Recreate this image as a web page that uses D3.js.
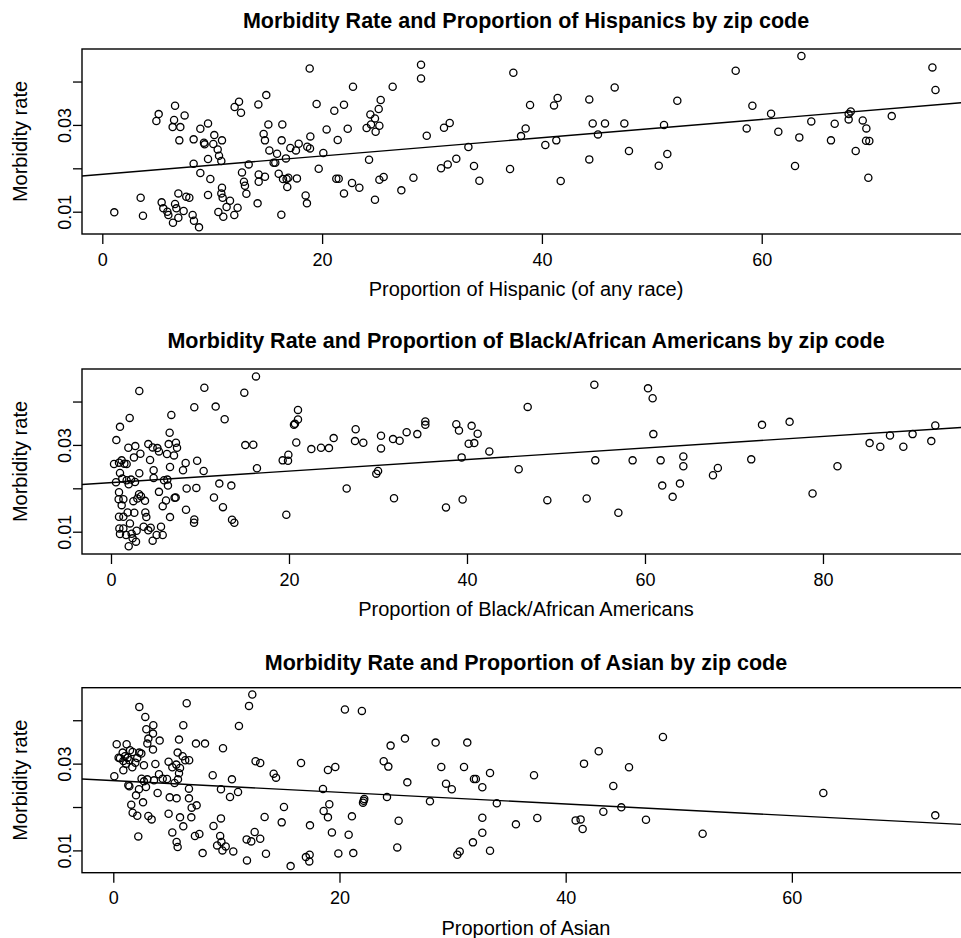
<!DOCTYPE html>
<html>
<head>
<meta charset="utf-8">
<script src="https://cdn.jsdelivr.net/npm/d3@7"></script>
<style>
  body { margin: 0; background: #fff; }
  svg { display: block; }
  text { font-family: "Liberation Sans", Arial, Helvetica, sans-serif; fill: #000; }
</style>
</head>
<body>
<svg id="chart" width="961" height="938"></svg>
<script>
// Proportion of Hispanic (x) vs morbidity rate (y)
var hispanicPts = [
  [1.09,0.00985],[3.49,0.01323],[3.70,0.00908],[4.92,0.03089],[5.13,0.0325],[6.62,0.03442],[7.49,0.0322],[6.53,0.03112],
  [6.40,0.0295],[7.10,0.0295],[7.01,0.02644],[5.40,0.01215],[5.55,0.01077],[5.92,0.0100],[6.01,0.00923],[6.62,0.01177],
  [6.74,0.01077],[6.92,0.00862],[6.43,0.00747],[7.40,0.01015],[6.92,0.01422],[7.64,0.01346],[7.92,0.01323],[8.22,0.00923],
  [8.34,0.00793],[8.80,0.00639],[8.31,0.02106],[8.92,0.01891],[8.31,0.02667],[8.92,0.02912],[9.62,0.03035],[9.25,0.0259],
  [9.31,0.02552],[10.19,0.02766],[10.10,0.02559],[10.89,0.02644],[10.50,0.02436],[10.62,0.0229],[9.62,0.02214],[10.83,0.02168],
  [9.83,0.01753],[9.62,0.01384],[10.89,0.01553],[10.83,0.01422],[10.95,0.01323],[11.62,0.01253],[11.31,0.01108],[10.56,0.00992],
  [11.01,0.00885],[12.01,0.00923],[12.31,0.01092],[12.04,0.03412],[12.44,0.03535],[12.62,0.0328],[14.20,0.03473],[14.92,0.03688],
  [15.11,0.03012],[14.68,0.0279],[14.80,0.02644],[15.20,0.02413],[15.90,0.02336],[15.59,0.02129],[15.74,0.02129],[16.71,0.02229],
  [16.38,0.03012],[16.32,0.02644],[17.11,0.02467],[17.62,0.02413],[17.87,0.02567],[18.65,0.02498],[18.90,0.02459],[18.93,0.02736],
  [18.87,0.04302],[19.50,0.03481],[20.41,0.02897],[20.11,0.02352],[21.11,0.03327],[21.99,0.03465],[22.81,0.0388],[22.33,0.02912],
  [21.42,0.02651],[19.69,0.01991],[21.29,0.0176],[21.51,0.0176],[22.72,0.0166],[23.39,0.01553],[21.99,0.01422],[24.27,0.02198],
  [24.39,0.03243],[24.81,0.0315],[24.05,0.02928],[24.45,0.03012],[24.87,0.02843],[25.33,0.03573],[25.15,0.03366],[24.81,0.01277],
  [25.21,0.01737],[13.32,0.0209],[12.71,0.01906],[12.89,0.01691],[12.98,0.01599],[13.11,0.01415],[14.23,0.0186],[14.23,0.01691],
  [14.80,0.01806],[16.05,0.01876],[16.44,0.01753],[16.77,0.01753],[16.83,0.01568],[16.93,0.01783],[17.71,0.01768],[18.50,0.01376],
  [18.62,0.01192],[16.29,0.00931],[14.13,0.01192],
  [25.21,0.02981],[25.60,0.01799],[26.42,0.0388],[29.00,0.04387],[29.00,0.04072],[27.21,0.01492],[28.31,0.01783],[29.52,0.02751],
  [31.09,0.02935],[31.61,0.03043],[30.82,0.02],[31.43,0.0209],[32.21,0.02221],[33.31,0.0249],[33.82,0.02052],[34.31,0.01714],
  [37.10,0.01983],[37.40,0.04203],[38.92,0.03458],[38.10,0.02743],[38.52,0.0292],[40.31,0.02536],[41.31,0.02644],[41.10,0.0345],
  [41.43,0.03619],[41.71,0.01707],[44.31,0.03588],[44.62,0.03035],[45.74,0.03035],[45.10,0.02782],[44.31,0.02206],[46.62,0.03865],
  [47.50,0.03035],[47.92,0.02398],[50.63,0.0206],[51.11,0.02997],[51.41,0.02329],
  [52.32,0.03558],[57.63,0.04249],[63.61,0.04587],[59.15,0.03442],[60.85,0.03258],[58.63,0.0292],[61.51,0.02843],[63.42,0.02713],
  [64.51,0.03081],[66.64,0.03028],[66.30,0.02644],[63.03,0.02052],[67.91,0.0325],[68.10,0.03312],[67.91,0.03127],[69.19,0.03104],
  [69.52,0.0292],[69.49,0.02636],[69.79,0.02628],[68.55,0.02398],[69.70,0.01783],[71.83,0.03204],[75.53,0.04326],[75.81,0.03804]
];

// Proportion of Black/African Americans (x) vs morbidity rate (y)
var blackPts = [
  [3.18,0.04243],[1.01,0.03417],[2.10,0.03623],[0.60,0.03111],[1.95,0.02935],[2.73,0.02973],[2.58,0.02713],[3.30,0.02797],
  [0.34,0.0256],[0.90,0.02591],[1.20,0.02644],[1.50,0.02568],[1.76,0.0256],[1.01,0.02354],[3.18,0.02346],[0.56,0.0214],
  [1.27,0.02224],[1.76,0.02185],[2.25,0.02201],[2.70,0.02147],[1.99,0.02094],[0.90,0.0191],[0.86,0.0175],[1.39,0.0175],
  [1.20,0.01612],[2.51,0.01704],[2.96,0.01765],[3.15,0.01864],[3.37,0.01818],[3.82,0.01711],[0.90,0.01344],[1.39,0.01344],
  [1.87,0.01444],[2.62,0.01436],[3.86,0.01444],[3.97,0.01337],[2.13,0.01191],[0.94,0.01076],[1.39,0.01076],[1.01,0.00946],
  [1.69,0.00924],[2.32,0.00954],[2.88,0.01023],[2.43,0.00847],[2.81,0.00771],[1.99,0.00663],[3.67,0.01115],[4.19,0.01031],
  [4.46,0.01092],[4.68,0.00794],[5.13,0.00924],[5.81,0.00924],[5.62,0.01115],[4.19,0.03019],[4.68,0.02943],[5.21,0.02927],
  [5.39,0.02851],[4.39,0.02652],[4.79,0.02415],[4.79,0.02239],[5.39,0.01918],[5.81,0.01589],[6.18,0.01719],[6.63,0.01337],
  [5.96,0.02185],[6.33,0.02201],[6.40,0.02063],[6.63,0.02491],[6.29,0.0279],[7.08,0.02759],[6.48,0.03019],[7.30,0.0305],
  [7.42,0.02935],[6.59,0.03279],[6.78,0.03692],[7.15,0.0178],[7.27,0.01788],[8.43,0.01505],[8.09,0.02415],[8.39,0.02583],
  [8.50,0.01994],[9.59,0.0201],[9.36,0.03868],[10.49,0.04319],[9.68,0.02637],[10.41,0.024],[9.36,0.01283],[9.33,0.01206],
  [11.76,0.03883],[12.77,0.03593],[11.57,0.01788],[12.17,0.02109],[12.58,0.01566],[13.52,0.02063],[13.60,0.01275],[13.86,0.01206],
  [14.98,0.04205],[16.29,0.04579],[15.09,0.02996],[15.99,0.03004],[16.40,0.02461],[19.70,0.0139],[19.29,0.02644],[19.93,0.02774],
  [19.89,0.02637],[20.56,0.03463],[20.67,0.03486],[21.01,0.03585],[21.01,0.03807],[20.82,0.03057],[22.51,0.02904],[23.60,0.02935],
  [24.49,0.02927],[25.02,0.03157],[26.48,0.01994],[27.49,0.03363],[27.42,0.03088],[28.35,0.0305],[29.81,0.02338],
  [30.34,0.0321],[30.34,0.0292],[30.01,0.0240],[31.69,0.03134],[32.43,0.03096],[33.22,0.03294],[34.42,0.03249],[35.32,0.03539],
  [35.32,0.03463],[31.80,0.01772],[37.64,0.01558],[38.80,0.03478],[39.10,0.03333],[40.52,0.0344],[41.20,0.03256],[40.19,0.03027],
  [40.82,0.03042],[42.51,0.02851],[39.40,0.02713],[39.51,0.01742],[45.81,0.02438],[46.82,0.03876],[49.03,0.01727],[53.45,0.01765],
  [54.31,0.04388],[54.42,0.02644],[57.01,0.01436],[58.61,0.02644],[60.34,0.04304],[60.86,0.04075],[60.94,0.03249],[61.76,0.02644],
  [61.94,0.02063],
  [63.11,0.01803],[63.93,0.02109],[64.31,0.02736],[64.31,0.02507],[67.64,0.023],[68.19,0.02468],[71.94,0.02667],[73.15,0.03463],
  [76.25,0.03532],[78.83,0.0188],[81.63,0.02507],[85.24,0.03042],[86.44,0.02958],[87.53,0.03218],[89.03,0.02958],[90.07,0.03249],
  [92.17,0.03088],[92.62,0.03447]
];

// Proportion of Asian (x) vs morbidity rate (y)
var asianPts = [
  [0.09,0.02708],[0.30,0.03446],[1.18,0.03446],[0.47,0.03138],[0.59,0.03123],[0.83,0.03254],[1.03,0.03169],[1.27,0.03138],
  [1.48,0.03308],[1.71,0.03269],[0.89,0.03062],[1.42,0.03077],[1.13,0.0300],[0.89,0.02846],[1.68,0.02915],[1.95,0.03023],
  [2.12,0.03131],[2.30,0.03254],[2.48,0.03231],[1.33,0.0250],[1.42,0.02477],[2.71,0.02962],[2.50,0.02654],[2.71,0.02592],
  [3.01,0.02638],[2.89,0.02462],[2.27,0.02408],[2.01,0.02269],[1.59,0.02054],[1.71,0.01869],[2.12,0.018],[2.21,0.01323],
  [2.63,0.02108],[3.10,0.01792],[3.39,0.01715],[2.30,0.04308],[2.83,0.04077],[2.92,0.03792],[3.54,0.03885],[3.51,0.03692],
  [3.10,0.03577],[3.01,0.03462],[3.51,0.03323],[4.10,0.03531],[3.72,0.02992],[4.04,0.02754],[3.60,0.02615],[4.37,0.02654],
  [4.75,0.02646],[3.92,0.02323],[4.89,0.03046],[5.22,0.02915],[5.57,0.02977],[5.90,0.029],[5.81,0.02777],[5.72,0.02638],
  [5.42,0.02554],[5.81,0.03554],[5.69,0.03254],[6.19,0.03885],[6.49,0.04392],[6.13,0.03169],[6.36,0.03077],[6.71,0.03077],
  [6.69,0.02423],[4.99,0.02223],[5.60,0.022],[6.69,0.022],[4.89,0.01846],[5.90,0.01762],[6.93,0.01985],[7.37,0.02038],
  [6.90,0.01762],[6.19,0.01554],[5.22,0.01415],[5.60,0.01192],[5.69,0.01077],[7.22,0.01331],[7.61,0.01377],[7.90,0.00938],
  [7.31,0.03462],[8.11,0.03462],[9.70,0.03354],[8.79,0.02731],[10.49,0.02638],[9.52,0.02408],[10.32,0.02231],[11.03,0.02346],
  [9.52,0.01738],[8.86,0.01562],[9.45,0.01331],[9.18,0.01115],[9.56,0.01192],[9.65,0.0100],[9.94,0.01092],[10.61,0.00977],
  [11.11,0.03869],[12.00,0.04331],[12.29,0.04592],[12.58,0.03054],[12.99,0.03015],[14.18,0.02769],[14.39,0.02677],[13.38,0.01769],
  [11.79,0.01254],[12.20,0.01208],[12.50,0.01423],[12.99,0.01269],[11.82,0.00769],[13.50,0.00923],[14.89,0.01646],[15.09,0.02],
  [15.68,0.00638],[16.60,0.03015],[17.03,0.00846],[17.36,0.009],[17.33,0.00746],[17.39,0.01577],[18.54,0.02415],[18.60,0.01908],
  [19.10,0.02062],[18.98,0.01762],[18.98,0.02854],[19.63,0.02923],[19.33,0.01415],[20.48,0.04246],[21.98,0.04215],[21.10,0.01785],
  [20.81,0.01362],[19.90,0.00931],[21.22,0.00938],[22.08,0.0210],[22.14,0.02146],[22.19,0.02185],
  [23.91,0.03054],[24.32,0.02931],[24.52,0.03415],[25.79,0.03577],[26.00,0.02569],[24.20,0.02231],[25.23,0.01685],[25.11,0.01069],
  [28.00,0.02131],[28.50,0.03485],[29.00,0.02923],[29.42,0.02538],[29.93,0.02408],[31.30,0.03485],[31.01,0.02923],[31.89,0.02646],
  [32.06,0.02646],[32.63,0.02454],[33.31,0.02785],[33.91,0.02085],[32.63,0.01754],[32.63,0.01408],[31.80,0.01185],[30.63,0.00977],
  [30.42,0.009],[33.31,0.00992],[35.60,0.016],[37.20,0.02731],[37.49,0.01746],[40.88,0.01692],[41.32,0.01715],[41.50,0.01492],
  [41.62,0.0300],[42.92,0.03285],[44.21,0.02485],[43.33,0.01892],[44.92,0.01992],[45.60,0.02915],[47.10,0.01708],[48.60,0.03615],
  [52.11,0.01385],[62.78,0.02323],[72.68,0.01808]
];

// fitted lines: [intercept, slope]
var hispanicFit = [0.01862, 0.000211];
var blackFit = [0.0213, 0.0001332];
var asianFit = [0.02608, -0.0001345];

var yTicks = [0.01, 0.02, 0.03, 0.04];
var yTickLabels = ["0.01", "", "0.03", ""];
var hispanicTicks = [0, 20, 40, 60];
var blackTicks = [0, 20, 40, 60, 80];
var asianTicks = [0, 20, 40, 60];

var panels = [
  { pts: hispanicPts, fit: hispanicFit, ticks: hispanicTicks, xlim: [-1.847, 78.95], top: 49, titleGap: 21,
    title: "Morbidity Rate and Proportion of Hispanics by zip code",
    xlab: "Proportion of Hispanic (of any race)" },
  { pts: blackPts, fit: blackFit, ticks: blackTicks, xlim: [-3.258, 96.52], top: 369, titleGap: 21,
    title: "Morbidity Rate and Proportion of Black/African Americans by zip code",
    xlab: "Proportion of Black/African Americans" },
  { pts: asianPts, fit: asianFit, ticks: asianTicks, xlim: [-2.767, 75.75], top: 687.7, titleGap: 18,
    title: "Morbidity Rate and Proportion of Asian by zip code",
    xlab: "Proportion of Asian" }
];

var left = 82, right = 970, plotH = 185;
var ylim = [0.00486, 0.0475];
var svg = d3.select("#chart");

panels.forEach(function(p) {
  var x = d3.scaleLinear().domain(p.xlim).range([left, right]);
  var y = d3.scaleLinear().domain(ylim).range([p.top + plotH, p.top]);
  var g = svg.append("g");

  // points
  g.append("g").selectAll("circle")
    .data(p.pts)
    .enter()
    .append("circle")
    .attr("cx", function(d) { return x(d[0]); })
    .attr("cy", function(d) { return y(d[1]); })
    .attr("r", 3.6)
    .attr("fill", "none")
    .attr("stroke", "#000")
    .attr("stroke-width", 1.3);

  // regression line
  var line = d3.line()
    .x(function(d) { return x(d); })
    .y(function(d) { return y(p.fit[0] + p.fit[1] * d); });
  g.append("path")
    .datum(p.xlim)
    .attr("d", line)
    .attr("fill", "none")
    .attr("stroke", "#000")
    .attr("stroke-width", 1.4);

  // box
  g.append("rect")
    .attr("x", left).attr("y", p.top)
    .attr("width", right - left).attr("height", plotH)
    .attr("fill", "none").attr("stroke", "#000").attr("stroke-width", 1.4);

  // x axis
  var xAxis = d3.axisBottom(x).tickValues(p.ticks).tickSize(10).tickPadding(9)
    .tickFormat(d3.format("d"));
  var xg = g.append("g")
    .attr("transform", "translate(0," + (p.top + plotH) + ")")
    .call(xAxis);
  xg.select(".domain").remove();
  xg.selectAll("line").attr("stroke-width", 1.3);
  xg.selectAll("text").style("font-size", "18px").style("font-family", null);

  // y axis
  var yAxis = d3.axisLeft(y).tickValues(yTicks).tickSize(9)
    .tickFormat(function(d, i) { return yTickLabels[i]; });
  var yg = g.append("g")
    .attr("transform", "translate(" + left + ",0)")
    .call(yAxis);
  yg.select(".domain").remove();
  yg.selectAll("line").attr("stroke-width", 1.3);
  yg.selectAll("text")
    .style("font-size", "18px").style("font-family", null)
    .attr("x", null).attr("dy", null)
    .attr("text-anchor", "middle")
    .attr("transform", "translate(-11,0) rotate(-90)");

  // title and labels
  g.append("text")
    .attr("x", (left + right) / 2).attr("y", p.top - p.titleGap)
    .attr("text-anchor", "middle")
    .style("font-size", "21.5px").style("font-weight", "bold")
    .text(p.title);

  g.append("text")
    .attr("x", (left + right) / 2).attr("y", p.top + plotH + 62)
    .attr("text-anchor", "middle")
    .style("font-size", "20px")
    .text(p.xlab);

  g.append("text")
    .attr("transform", "translate(27," + (p.top + plotH / 2) + ") rotate(-90)")
    .attr("text-anchor", "middle")
    .style("font-size", "20px")
    .text("Morbidity rate");
});
</script>
</body>
</html>
